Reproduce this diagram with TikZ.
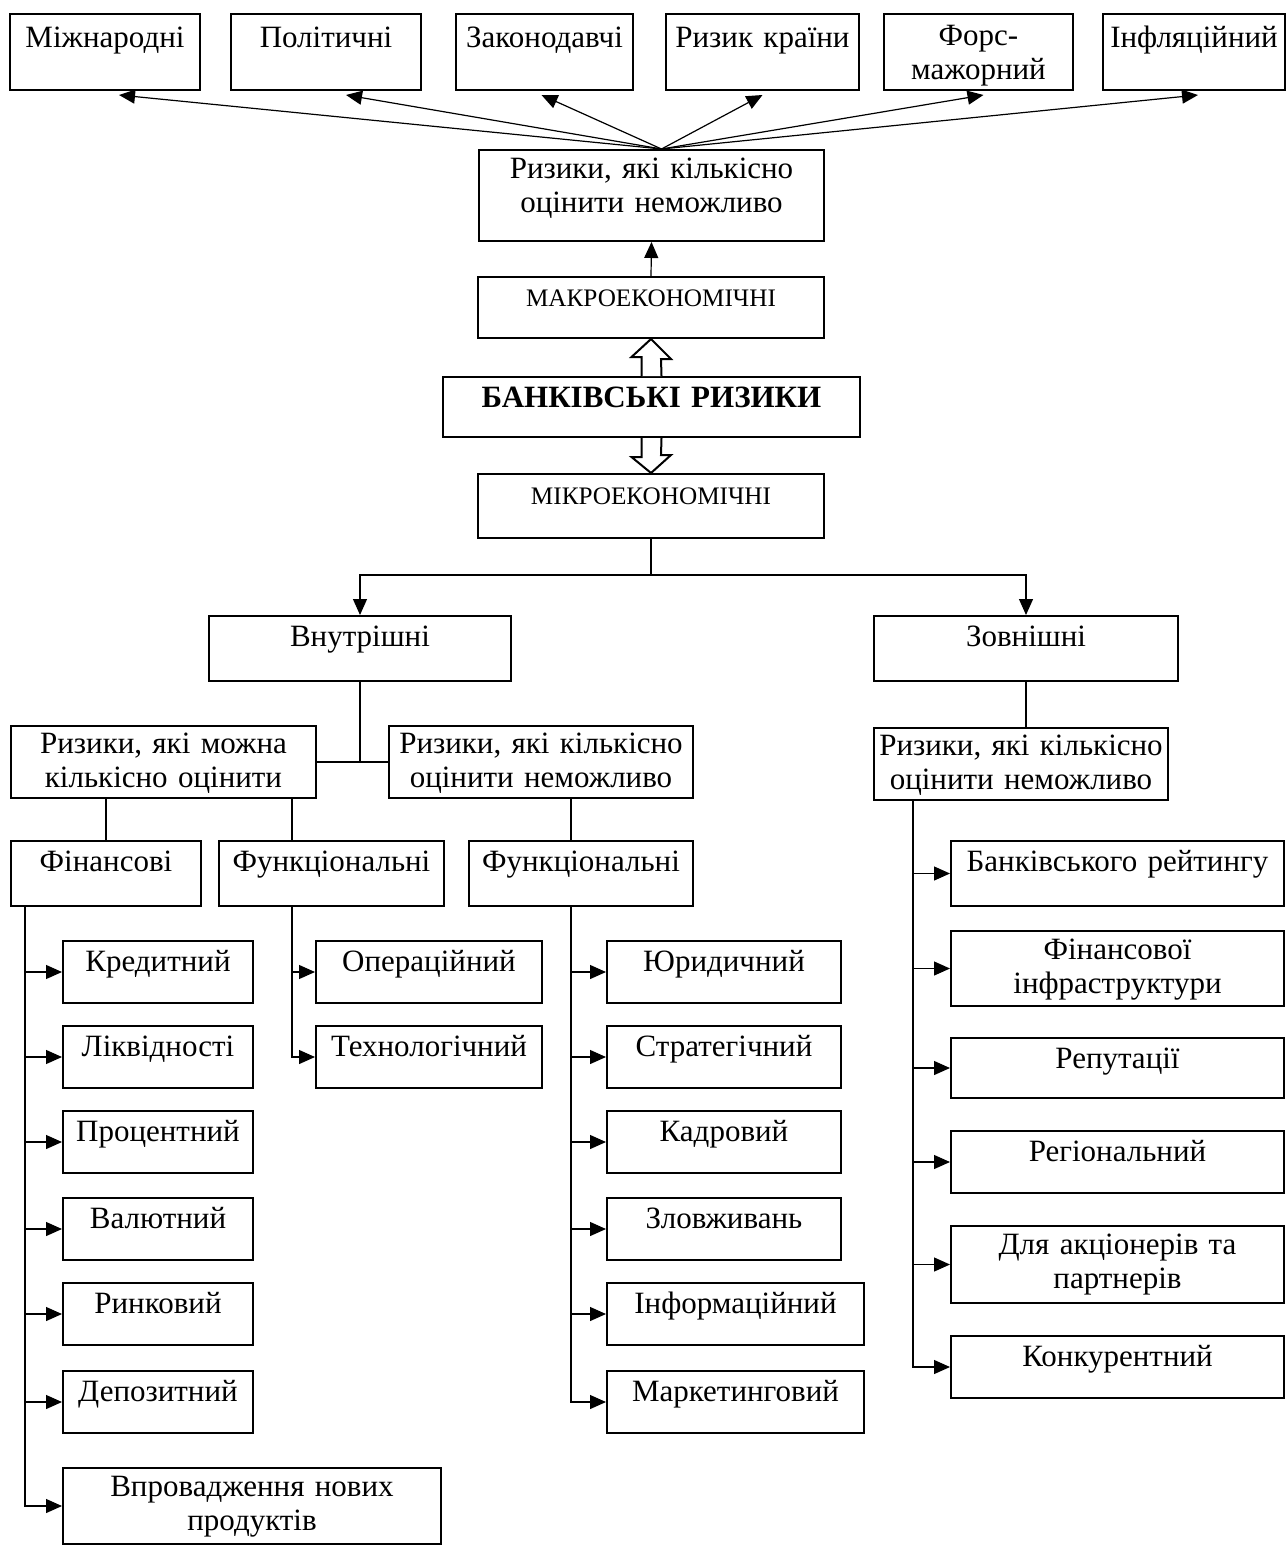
\documentclass[tikz,border=0pt]{standalone}
\usepackage{fontspec}
\setmainfont{Liberation Serif}
\usetikzlibrary{arrows.meta,calc}

\tikzset{
  box/.style={draw, line width=1pt, anchor=north west, inner sep=0pt, align=center,
    font=\fontsize{15.5}{17}\selectfont, text height=15pt},
  arr/.style={-{Triangle[length=8pt,width=7pt]}, line width=0.6pt},
  ln/.style={line width=0.6pt},
  hollow/.style={line width=1pt, fill=white},
}

\begin{document}
\begin{tikzpicture}[x=0.5pt,y=-0.5pt]
  \useasboundingbox (0,0) rectangle (1285,1546);

  % ризики, які кількісно оцінити неможливо (макро)
  \node[box, text width=95pt, text height=17pt, text depth=21pt] (mizh) at (9,13) {Міжнародні};
  \node[box, text width=95pt, text height=17pt, text depth=21pt] (polit) at (230,13) {Політичні};
  \node[box, text width=88.5pt, text height=17pt, text depth=21pt] (zakon) at (455,13) {Законодавчі};
  \node[box, text width=96.5pt, text height=17pt, text depth=21pt] (krain) at (665,13) {Ризик країни};
  \node[box, text width=94.5pt, text height=16pt, text depth=22pt] (fors) at (883,13) {Форс-\\мажорний};
  \node[box, text width=91pt, text height=17pt, text depth=21pt] (infl) at (1102,13) {Інфляційний};

  \node[box, text width=172.5pt, text height=14.5pt, text depth=31pt] (rtop) at (478,149) {Ризики, які кількісно\\оцінити неможливо};
  \node[box, text width=173pt, text height=14.5pt, text depth=16pt, font=\fontsize{12.6}{14}\selectfont] (macro) at (477,276) {МАКРОЕКОНОМІЧНІ};
  \node[box, text width=208.5pt, text height=15pt, text depth=15pt, font=\fontsize{15.5}{17}\selectfont\bfseries] (bank) at (442,376) {БАНКІВСЬКІ РИЗИКИ};
  \node[box, text width=173pt, text height=15pt, text depth=17pt, font=\fontsize{12.6}{14}\selectfont] (micro) at (477,473) {МІКРОЕКОНОМІЧНІ};

  \coordinate (conv) at ($(rtop.north)+(10,0)$);
  \draw[arr] (conv) -- ($(mizh.south)+(14,4)$);
  \draw[arr] (conv) -- ($(polit.south)+(20,4)$);
  \draw[arr] (conv) -- ($(zakon.south)+(-3,4)$);
  \draw[arr] (conv) -- ($(krain.south)+(0,4)$);
  \draw[arr] (conv) -- ($(fors.south)+(5,4)$);
  \draw[arr] (conv) -- ($(infl.south)+(4,4)$);
  \draw[arr] (macro.north) -- (rtop.south);

  \draw[hollow] ($(bank.north)+(-10,0)$) -- ++(0,-19) -- ++(-10,0) -- (macro.south)
    -- ++(20,20) -- ++(-10,0) -- ($(bank.north)+(10,0)$);
  \draw[hollow] ($(bank.south)+(-10,0)$) -- ++(0,19) -- ++(-10,0) -- (micro.north)
    -- ++(20,-18) -- ++(-10,0) -- ($(bank.south)+(10,0)$);

  % внутрішні і зовнішні
  \node[box, text width=151pt, text depth=17.5pt] (vnutr) at (208,615) {Внутрішні};
  \node[box, text width=152pt, text depth=17.5pt] (zovn) at (873,615) {Зовнішні};

  \draw[ln] (micro.south) -- ++(0,36) coordinate (mj);
  \draw[arr] (mj) -| (vnutr.north);
  \draw[arr] (mj) -| (zovn.north);

  \node[box, text width=152.5pt, text height=13.5pt, text depth=22.5pt] (mozhna) at (10,725) {Ризики, які можна\\кількісно оцінити};
  \node[box, text width=152pt, text height=13.5pt, text depth=22.5pt] (nemin) at (388,725) {Ризики, які кількісно\\оцінити неможливо};
  \node[box, text width=147pt, text height=13.5pt, text depth=22.5pt] (nemout) at (873,727) {Ризики, які кількісно\\оцінити неможливо};

  \draw[ln] (vnutr.south) |- (mozhna.east);
  \draw[ln] (vnutr.south) |- (nemin.west);
  \draw[ln] (zovn.south) -- (zovn.south |- nemout.north);

  \node[box, text width=95pt, text depth=17.5pt] (fin) at (10,840) {Фінансові};
  \node[box, text width=112.5pt, text depth=17.5pt] (func1) at (218,840) {Функціональні};
  \node[box, text width=112pt, text depth=17.5pt] (func2) at (468,840) {Функціональні};

  \coordinate (s2) at ($(mozhna.south east)+(-25,0)$);
  \coordinate (s3) at ($(nemin.south)+(30,0)$);
  \draw[ln] (fin.north |- mozhna.south) -- (fin.north);
  \draw[ln] (s2) -- (s2 |- func1.north);
  \draw[ln] (s3) -- (s3 |- func2.north);

  % фінансові
  \node[box, text width=95pt, text depth=16pt] (kred) at (62,940) {Кредитний};
  \node[box, text width=95pt, text depth=16pt] (likv) at (62,1025) {Ліквідності};
  \node[box, text width=95pt, text depth=16pt] (proc) at (62,1110) {Процентний};
  \node[box, text width=95pt, text depth=16pt] (valut) at (62,1197) {Валютний};
  \node[box, text width=95pt, text depth=16pt] (rynk) at (62,1282) {Ринковий};
  \node[box, text width=95pt, text depth=16pt] (depoz) at (62,1370) {Депозитний};
  \node[box, text width=189pt, text height=14pt, text depth=24pt] (vprov) at (62,1467) {Впровадження нових\\продуктів};

  \coordinate (s1) at ($(fin.south west)+(15,0)$);
  \draw[arr] (s1) |- (vprov.west);
  \foreach \b in {kred,likv,proc,valut,rynk,depoz}
    \draw[arr] (s1 |- \b.west) -- (\b.west);

  % функціональні
  \node[box, text width=113pt, text depth=16pt] (oper) at (315,940) {Операційний};
  \node[box, text width=113pt, text depth=16pt] (tekhn) at (315,1025) {Технологічний};

  \draw[arr] (s2 |- func1.south) |- (tekhn.west);
  \draw[arr] (s2 |- oper.west) -- (oper.west);

  \node[box, text width=117pt, text depth=16pt] (yur) at (606,940) {Юридичний};
  \node[box, text width=117pt, text depth=16pt] (strat) at (606,1025) {Стратегічний};
  \node[box, text width=117pt, text depth=16pt] (kadr) at (606,1110) {Кадровий};
  \node[box, text width=117pt, text depth=16pt] (zlov) at (606,1197) {Зловживань};
  \node[box, text width=128.5pt, text depth=16pt] (inform) at (606,1282) {Інформаційний};
  \node[box, text width=128.5pt, text depth=16pt] (market) at (606,1370) {Маркетинговий};

  \draw[arr] (s3 |- func2.south) |- (market.west);
  \foreach \b in {yur,strat,kadr,zlov,inform}
    \draw[arr] (s3 |- \b.west) -- (\b.west);

  % зовнішні
  \node[box, text width=166.5pt, text depth=17.5pt] (rejt) at (950,840) {Банківського рейтингу};
  \node[box, text width=166.5pt, text height=14pt, text depth=23.5pt] (infra) at (950,930) {Фінансової\\інфраструктури};
  \node[box, text width=166.5pt, text depth=15pt] (reput) at (950,1037) {Репутації};
  \node[box, text width=166.5pt, text depth=16pt] (region) at (950,1130) {Регіональний};
  \node[box, text width=166.5pt, text height=14pt, text depth=24.5pt] (akc) at (950,1225) {Для акціонерів та\\партнерів};
  \node[box, text width=166.5pt, text depth=16pt] (konk) at (950,1335) {Конкурентний};

  \coordinate (s4) at ($(nemout.south west)+(40,0)$);
  \draw[arr] (s4) |- (konk.west);
  \foreach \b in {rejt,infra,reput,region,akc}
    \draw[arr] (s4 |- \b.west) -- (\b.west);

\end{tikzpicture}
\end{document}
